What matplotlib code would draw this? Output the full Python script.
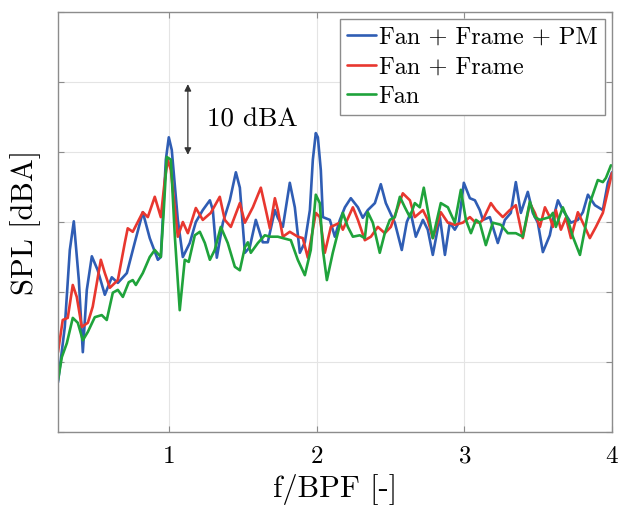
import matplotlib

matplotlib.use("Agg")
import matplotlib.pyplot as plt

plt.rcParams["font.family"] = ["cmr10", "DejaVu Serif"]
plt.rcParams["mathtext.fontset"] = "cm"
plt.rcParams["axes.unicode_minus"] = False
plt.rcParams["axes.formatter.use_mathtext"] = True

# f/BPF and SPL [dBA] values
f_pm = [0.25, 0.296, 0.330, 0.357, 0.391, 0.418, 0.445, 0.479, 0.519, 0.567, 0.614, 0.655, 0.716,
        0.770, 0.824, 0.871, 0.926, 0.946, 0.980, 1.000, 1.020, 1.061, 1.095, 1.142, 1.183, 1.230,
        1.278, 1.298, 1.325, 1.366, 1.413, 1.454, 1.481, 1.515, 1.548, 1.589, 1.636, 1.670, 1.718,
        1.738, 1.772, 1.819, 1.853, 1.887, 1.921, 1.955, 1.975, 1.995, 2.009, 2.029, 2.043, 2.090,
        2.124, 2.158, 2.192, 2.232, 2.280, 2.313, 2.347, 2.395, 2.435, 2.469, 2.530, 2.577, 2.611,
        2.638, 2.672, 2.720, 2.753, 2.787, 2.835, 2.869, 2.902, 2.936, 2.963, 2.997, 3.038, 3.072,
        3.105, 3.126, 3.173, 3.227, 3.275, 3.315, 3.349, 3.383, 3.430, 3.464, 3.498, 3.532, 3.579,
        3.600, 3.634, 3.667, 3.722, 3.769, 3.803, 3.837, 3.884, 3.938, 3.972, 4.0]
spl_pm = [47.1, 55.0, 66.0, 70.1, 61.7, 51.4, 60.3, 65.1, 63.1, 59.6, 62.1, 61.3, 62.7,
          67.1, 71.4, 67.7, 64.6, 65.0, 78.9, 82.1, 80.3, 70.3, 65.0, 67.0, 70.0, 71.7,
          73.1, 71.7, 64.9, 69.9, 73.1, 77.1, 74.9, 65.6, 66.4, 70.3, 67.1, 67.1, 71.7,
          70.6, 69.3, 75.6, 72.1, 65.6, 67.1, 71.7, 78.9, 82.7, 82.1, 77.4, 70.7, 70.3,
          67.9, 70.3, 72.1, 73.4, 72.1, 70.6, 71.7, 72.7, 75.4, 72.7, 69.9, 66.0, 70.0,
          71.3, 67.9, 70.3, 68.9, 65.3, 70.7, 65.3, 69.9, 68.9, 69.9, 75.6, 73.4, 73.1,
          71.7, 70.3, 70.7, 67.0, 70.3, 71.3, 75.7, 71.3, 74.3, 71.3, 69.9, 65.7, 68.1,
          70.3, 73.1, 71.7, 69.9, 70.3, 71.4, 73.9, 72.4, 71.7, 75.6, 77.1]

f_frame = [0.25, 0.282, 0.316, 0.350, 0.377, 0.411, 0.452, 0.485, 0.540, 0.567, 0.601, 0.655,
           0.702, 0.722, 0.756, 0.824, 0.858, 0.905, 0.946, 0.973, 0.993, 1.014, 1.061, 1.095,
           1.129, 1.183, 1.230, 1.284, 1.345, 1.379, 1.420, 1.481, 1.515, 1.569, 1.623, 1.657,
           1.684, 1.718, 1.738, 1.772, 1.819, 1.873, 1.907, 1.941, 1.995, 2.022, 2.056, 2.097,
           2.158, 2.178, 2.246, 2.280, 2.327, 2.368, 2.415, 2.462, 2.503, 2.537, 2.584, 2.632,
           2.665, 2.720, 2.753, 2.787, 2.841, 2.889, 2.936, 2.990, 3.038, 3.072, 3.105, 3.126,
           3.180, 3.214, 3.261, 3.308, 3.349, 3.396, 3.444, 3.478, 3.512, 3.546, 3.579, 3.600,
           3.620, 3.654, 3.688, 3.722, 3.769, 3.816, 3.850, 3.891, 3.938, 4.0]
spl_frame = [51.4, 56.0, 56.3, 61.0, 59.3, 55.0, 55.6, 57.9, 64.6, 62.7, 60.6, 61.7,
             67.0, 69.1, 68.6, 71.4, 70.7, 73.6, 70.7, 76.0, 78.9, 77.4, 67.9, 70.0,
             68.4, 72.0, 70.3, 71.3, 73.6, 70.3, 69.3, 72.7, 69.9, 72.1, 74.9, 71.7,
             69.1, 73.4, 71.7, 67.9, 68.6, 67.9, 67.7, 64.9, 71.3, 70.7, 65.6, 69.3,
             69.9, 68.9, 72.1, 70.3, 67.4, 67.9, 69.3, 68.4, 69.3, 71.3, 74.1, 73.1,
             70.7, 71.7, 70.3, 67.7, 71.4, 69.9, 69.6, 69.9, 70.7, 70.0, 69.9, 70.3,
             72.7, 71.7, 70.7, 71.7, 72.4, 67.7, 72.7, 71.3, 69.3, 72.1, 70.7, 69.3,
             71.7, 68.9, 70.6, 67.7, 71.4, 69.3, 67.7, 69.3, 71.3, 77.0]

f_fan = [0.25, 0.276, 0.310, 0.350, 0.384, 0.418, 0.452, 0.499, 0.546, 0.580, 0.621, 0.655,
         0.689, 0.729, 0.756, 0.777, 0.824, 0.871, 0.905, 0.946, 0.966, 0.986, 1.014, 1.041,
         1.074, 1.108, 1.135, 1.176, 1.210, 1.244, 1.278, 1.311, 1.352, 1.399, 1.447, 1.481,
         1.515, 1.535, 1.555, 1.603, 1.650, 1.684, 1.738, 1.772, 1.826, 1.873, 1.921, 1.961,
         1.995, 2.022, 2.043, 2.070, 2.110, 2.158, 2.178, 2.212, 2.246, 2.293, 2.327, 2.347,
         2.381, 2.428, 2.462, 2.496, 2.530, 2.564, 2.598, 2.632, 2.665, 2.699, 2.726, 2.753,
         2.787, 2.841, 2.889, 2.936, 2.977, 3.011, 3.045, 3.079, 3.105, 3.146, 3.193, 3.248,
         3.295, 3.349, 3.396, 3.444, 3.478, 3.512, 3.579, 3.600, 3.620, 3.667, 3.701, 3.735,
         3.783, 3.816, 3.850, 3.904, 3.938, 3.959, 3.993]
spl_fan = [47.4, 50.7, 52.7, 56.3, 55.6, 53.1, 54.3, 56.4, 56.7, 56.0, 59.9, 60.3,
           59.3, 61.4, 61.7, 61.0, 62.7, 65.0, 66.0, 65.0, 71.7, 79.3, 78.9, 67.9,
           57.4, 64.6, 64.3, 68.1, 68.6, 67.0, 64.6, 66.0, 69.3, 67.0, 63.6, 63.1,
           66.4, 67.1, 65.6, 67.0, 68.1, 67.9, 67.9, 67.7, 67.4, 64.6, 62.4, 66.0,
           73.9, 72.7, 66.0, 61.7, 65.6, 69.6, 71.3, 69.3, 67.9, 68.1, 67.7, 71.4,
           69.9, 65.6, 68.4, 70.3, 70.7, 73.6, 72.1, 70.7, 72.7, 72.1, 74.9, 71.7,
           67.7, 72.7, 72.1, 69.9, 74.6, 70.3, 68.4, 70.3, 69.9, 66.7, 69.9, 69.6,
           68.4, 68.4, 67.9, 72.9, 70.7, 70.3, 70.7, 71.3, 69.3, 72.1, 70.3, 67.9,
           65.3, 68.9, 72.7, 76.0, 75.7, 76.3, 78.1]

x_ticks = [1, 2, 3, 4]
y_ticks = [40, 50, 60, 70, 80, 90, 100]

fig = plt.figure(figsize=(6.19, 5.05), dpi=100)
ax = fig.add_axes([0.0937, 0.1446, 0.895, 0.8316])

line_kw = dict(lw=1.9, solid_joinstyle="round", solid_capstyle="round")
ax.plot(f_pm, spl_pm, color="#2f5db4", label="Fan + Frame + PM", **line_kw)
ax.plot(f_frame, spl_frame, color="#e8372f", label="Fan + Frame", **line_kw)
ax.plot(f_fan, spl_fan, color="#1fa33b", label="Fan", **line_kw)

ax.set_xlim(0.25, 4)
ax.set_ylim(40, 100)
ax.set_xticks(x_ticks)
ax.set_yticks(y_ticks)
ax.set_yticklabels([])
ax.grid(True, color="#e4e4e4", lw=0.8)
ax.set_axisbelow(True)
ax.tick_params(direction="in", length=4, color="#8c8c8c", top=True, right=True,
               labelsize=18, pad=10)
for sp in ax.spines.values():
    sp.set_color("#8c8c8c")
    sp.set_linewidth(1.0)

ax.set_xlabel("f/BPF [-]", fontsize=22, labelpad=4)
ax.set_ylabel("SPL [dBA]", fontsize=22, labelpad=2)

# 10 dBA scale arrow
ax.annotate("", xy=(1.129, 89.7), xytext=(1.129, 79.6),
            arrowprops=dict(arrowstyle="<|-|>", color="#333333", lw=0.9,
                            mutation_scale=10, shrinkA=0, shrinkB=0))
ax.text(1.257, 84.6, "10 dBA", fontsize=19.5, va="center", ha="left")

leg = ax.legend(loc="upper right", fontsize=17.5, handlelength=1.2, handletextpad=0.1,
                labelspacing=0.3, borderpad=0.3, borderaxespad=0.3, fancybox=False,
                framealpha=1)
leg.get_frame().set_edgecolor("#8c8c8c")
leg.get_frame().set_linewidth(1.0)

fig.savefig("out.png", dpi=100)
